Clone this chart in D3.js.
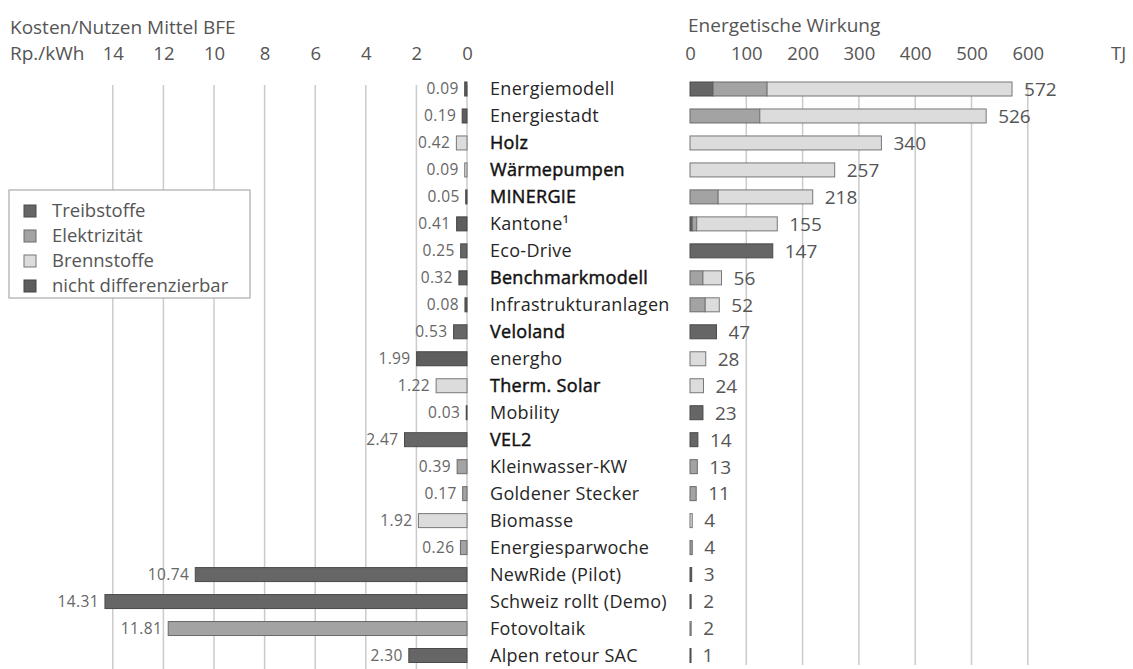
<!DOCTYPE html>
<html><head><meta charset="utf-8">
<script src="https://cdn.jsdelivr.net/npm/d3@7"></script>
<style>
body{margin:0;background:#fff;}
text{font-family:"Open Sans","Noto Sans",sans-serif;}
</style></head>
<body><svg id="c" width="1133" height="669"></svg>
<script>
const categories = ["Energiemodell","Energiestadt","Holz","Wärmepumpen","MINERGIE","Kantone¹","Eco-Drive","Benchmarkmodell","Infrastrukturanlagen","Veloland","energho","Therm. Solar","Mobility","VEL2","Kleinwasser-KW","Goldener Stecker","Biomasse","Energiesparwoche","NewRide (Pilot)","Schweiz rollt (Demo)","Fotovoltaik","Alpen retour SAC"];
const emphasized = ["Holz","Wärmepumpen","MINERGIE","Benchmarkmodell","Veloland","Therm. Solar","VEL2"];
const costValues = [0.09,0.19,0.42,0.09,0.05,0.41,0.25,0.32,0.08,0.53,1.99,1.22,0.03,2.47,0.39,0.17,1.92,0.26,10.74,14.31,11.81,2.30];
const costType = ["nd","nd","brenn","brenn","nd","nd","treib","nd","nd","treib","nd","brenn","treib","treib","elek","elek","brenn","elek","treib","treib","elek","treib"];
const treibstoffe = [41,0,0,0,0,4,147,0,0,47,0,0,23,14,0,0,0,0,3,2,0,1];
const elektrizitaet = [96,124,0,0,50,8,0,23,27,0,0,0,0,0,13,11,0,4,0,0,2,0];
const brennstoffe = [435,402,340,257,168,143,0,33,25,0,28,24,0,0,0,0,4,0,0,0,0,0];
const nichtDiff = [0,0,0,0,0,0,0,0,0,0,0,0,0,0,0,0,0,0,0,0,0,0];
const totals = [572,526,340,257,218,155,147,56,52,47,28,24,23,14,13,11,4,4,3,2,2,1];
const costTicks = [14,12,10,8,6,4,2,0];
const energyTicks = [0,100,200,300,400,500,600];
const seriesKeys = ["treib","elek","brenn","nd"];
const seriesNames = ["Treibstoffe","Elektrizität","Brennstoffe","nicht differenzierbar"];

const fills = {treib:"#666666", elek:"#a3a3a3", brenn:"#dcdcdc", nd:"#5e5e5e"};
const strokes = {treib:"#4a4a4a", elek:"#6a6a6a", brenn:"#777777", nd:"#444444"};

const svg = d3.select("#c");
const y = d3.scalePoint().domain(categories).range([89, 655.5]);
const xl = d3.scaleLinear().domain([0,14]).range([467, 112.8]);
const xr = d3.scaleLinear().domain([0,600]).range([690, 1027.8]);
const bh = 14;

svg.append("g").selectAll("line").data(costTicks).join("line")
  .attr("x1", d=>xl(d)).attr("x2", d=>xl(d)).attr("y1", 85).attr("y2", 669)
  .attr("stroke", "#cbcbcb").attr("stroke-width", 1.5);
svg.append("g").selectAll("line").data(energyTicks.filter(d=>d>0)).join("line")
  .attr("x1", d=>xr(d)).attr("x2", d=>xr(d)).attr("y1", 85).attr("y2", 665)
  .attr("stroke", "#cbcbcb").attr("stroke-width", 1.5);

svg.append("text").attr("x", 10).attr("y", 34).attr("font-size", 19).attr("fill", "#555").text("Kosten/Nutzen Mittel BFE");
svg.append("text").attr("x", 10).attr("y", 60).attr("font-size", 19).attr("fill", "#555").text("Rp./kWh");
svg.append("text").attr("x", 688).attr("y", 32).attr("font-size", 19).attr("fill", "#555").text("Energetische Wirkung");
svg.append("text").attr("x", 1111).attr("y", 60).attr("font-size", 18.5).attr("fill", "#555").text("TJ");

const axL = d3.axisTop(xl).tickValues(costTicks).tickSize(0).tickPadding(0).tickFormat(d3.format("d"));
const gL = svg.append("g").attr("transform", "translate(0,60)").call(axL);
gL.select(".domain").remove();
gL.selectAll("text").attr("font-size", 18.5).attr("fill", "#555").attr("font-family", "Open Sans").attr("dy", 0);
const axR = d3.axisTop(xr).tickValues(energyTicks).tickSize(0).tickPadding(0).tickFormat(d3.format("d"));
const gR = svg.append("g").attr("transform", "translate(0,60)").call(axR);
gR.select(".domain").remove();
gR.selectAll("text").attr("font-size", 18.5).attr("fill", "#555").attr("font-family", "Open Sans").attr("dy", 0);

const rows = categories.map((c,i)=>({c, v:costValues[i], t:costType[i], i}));
svg.append("g").selectAll("rect").data(rows).join("rect")
  .attr("x", d=>xl(d.v)).attr("width", d=>xl(0)-xl(d.v))
  .attr("y", d=>y(d.c)-bh/2).attr("height", bh)
  .attr("fill", d=>fills[d.t]).attr("stroke", d=>strokes[d.t]).attr("stroke-width", 1);
svg.append("g").selectAll("text").data(rows).join("text")
  .attr("x", d=>xl(d.v)-6).attr("y", d=>y(d.c)).attr("dy", "0.35em")
  .attr("text-anchor", "end").attr("font-size", 15.5).attr("letter-spacing", 0.4).attr("fill", "#666")
  .text(d=>d3.format(".2f")(d.v));

svg.append("g").selectAll("text").data(categories).join("text")
  .attr("x", 490).attr("y", d=>y(d)).attr("dy", "0.35em")
  .attr("font-size", 18).attr("letter-spacing", 0.3)
  .attr("fill", d=>emphasized.includes(d) ? "#111" : "#262626")
  .attr("stroke", d=>emphasized.includes(d) ? "#111" : "none")
  .attr("stroke-width", 0.45)
  .text(d=>d);

const stackData = categories.map((c,i)=>({c, treib:treibstoffe[i], elek:elektrizitaet[i], brenn:brennstoffe[i], nd:nichtDiff[i]}));
const stack = d3.stack().keys(seriesKeys)(stackData);
const gS = svg.append("g");
stack.forEach(layer=>{
  gS.append("g").selectAll("rect").data(layer.filter(d=>d[1]-d[0]>0)).join("rect")
    .attr("x", d=>xr(d[0])).attr("width", d=>Math.max(1, xr(d[1])-xr(d[0])))
    .attr("y", d=>y(d.data.c)-bh/2).attr("height", bh)
    .attr("fill", fills[layer.key]).attr("stroke", strokes[layer.key]).attr("stroke-width", 1);
});
svg.append("g").selectAll("text").data(categories).join("text")
  .attr("x", (d,i)=>xr(totals[i])+12).attr("y", d=>y(d)).attr("dy", "0.36em")
  .attr("font-size", 19).attr("fill", "#555").text((d,i)=>totals[i]);

const lg = svg.append("g");
lg.append("rect").attr("x", 9).attr("y", 190).attr("width", 241).attr("height", 108)
  .attr("fill", "#fff").attr("stroke", "#aaa").attr("stroke-width", 1.2);
const ly = d3.scalePoint().domain(seriesKeys).range([211, 286]);
lg.selectAll(".sw").data(seriesKeys).join("rect")
  .attr("x", 24).attr("y", d=>ly(d)-6).attr("width", 12).attr("height", 12)
  .attr("fill", d=>fills[d]).attr("stroke", d=>strokes[d]).attr("stroke-width", 1);
lg.selectAll(".lt").data(seriesKeys).join("text")
  .attr("x", 52).attr("y", d=>ly(d)).attr("dy", "0.35em")
  .attr("font-size", 18.5).attr("fill", "#555").text((d,i)=>seriesNames[i]);
</script></body></html>
